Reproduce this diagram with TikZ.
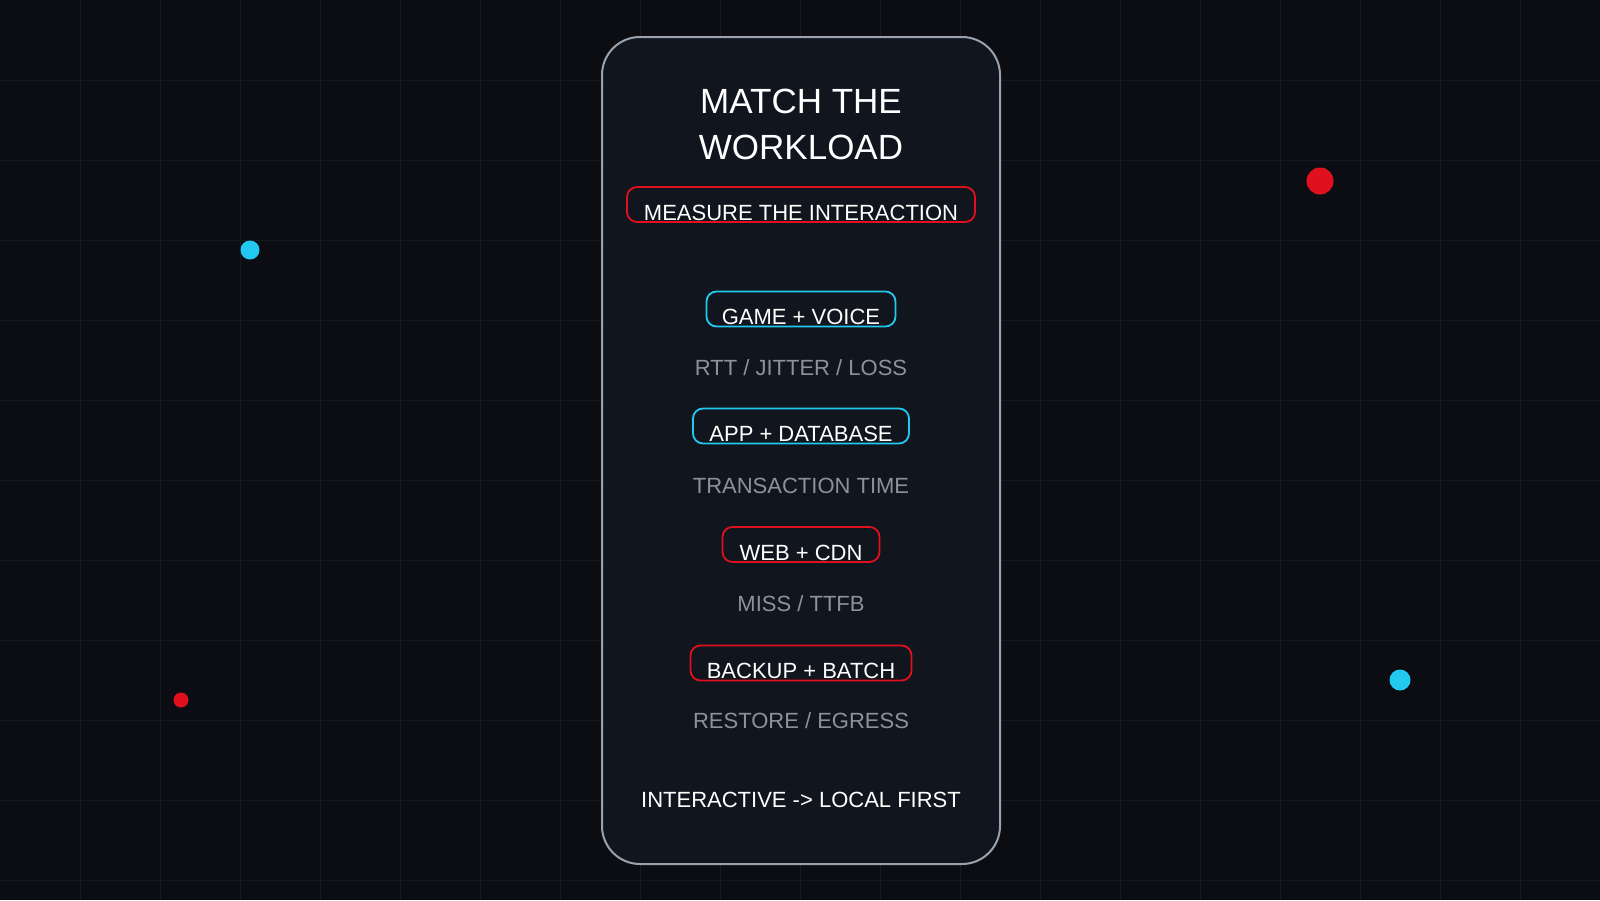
\documentclass[tikz,border=0pt]{standalone}
\usepackage{fontspec}
\setmainfont{Liberation Sans}
\usetikzlibrary{positioning}
\definecolor{bgdark}{HTML}{0B0D12}
\definecolor{griddark}{HTML}{151922}
\definecolor{cardfill}{HTML}{11151E}
\definecolor{cardline}{HTML}{9AA3AD}
\definecolor{hotred}{HTML}{E0101E}
\definecolor{iceblue}{HTML}{22C8F0}
\definecolor{mutedgray}{HTML}{8B929C}
\tikzset{
  tag/.style={draw=#1, line width=1.8pt, rounded corners=10pt, text=white,
    font=\fontsize{22}{22}\selectfont, text height=31pt, text depth=0pt,
    inner ysep=2pt, inner xsep=0pt},
  metric/.style={text=mutedgray, font=\fontsize{22}{22}\selectfont},
  dot/.style={circle, fill=#1, inner sep=0pt}
}
\begin{document}
\begin{tikzpicture}[x=1pt,y=-1pt]
\useasboundingbox (0,0) rectangle (1600,900);
\fill [bgdark] (0,0) rectangle (1600,900);
\foreach \gx in {80,160,...,1520}
  \draw [griddark, line width=1pt] (\gx,0) -- (\gx,900);
\foreach \gy in {80,160,...,880}
  \draw [griddark, line width=1pt] (0,\gy) -- (1600,\gy);
% card
\draw [fill=cardfill, draw=cardline, line width=2pt, rounded corners=38pt]
  (602,37) rectangle (1000,864);
\node (title) [text=white, align=center, font=\fontsize{35}{46}\selectfont] at (801,124)
  {MATCH THE\\WORKLOAD};
\node (measure) [tag=hotred, minimum width=348pt] at (801,204.5) {MEASURE THE INTERACTION};
\node (game) [tag=iceblue, minimum width=189pt] at (801,309) {GAME + VOICE};
\node (rtt) [metric] at (801,368) {RTT / JITTER / LOSS};
\node (app) [tag=iceblue, minimum width=216pt] at (801,426) {APP + DATABASE};
\node (trans) [metric] at (801,486) {TRANSACTION TIME};
\node (web) [tag=hotred, minimum width=157pt] at (801,544.5) {WEB + CDN};
\node (miss) [metric] at (801,604) {MISS / TTFB};
\node (backup) [tag=hotred, minimum width=221pt] at (801,663) {BACKUP + BATCH};
\node (restore) [metric] at (801,721) {RESTORE / EGRESS};
\node (rule) [text=white, font=\fontsize{22}{22}\selectfont] at (801,800) {INTERACTIVE -> LOCAL FIRST};
% dots
\node (dotA) [dot=iceblue, minimum size=19pt] at (250,250) {};
\node (dotB) [dot=hotred, minimum size=27pt] at (1320,181) {};
\node (dotC) [dot=hotred, minimum size=15pt] at (181,700) {};
\node (dotD) [dot=iceblue, minimum size=21pt] at (1400,680) {};
\end{tikzpicture}
\end{document}
